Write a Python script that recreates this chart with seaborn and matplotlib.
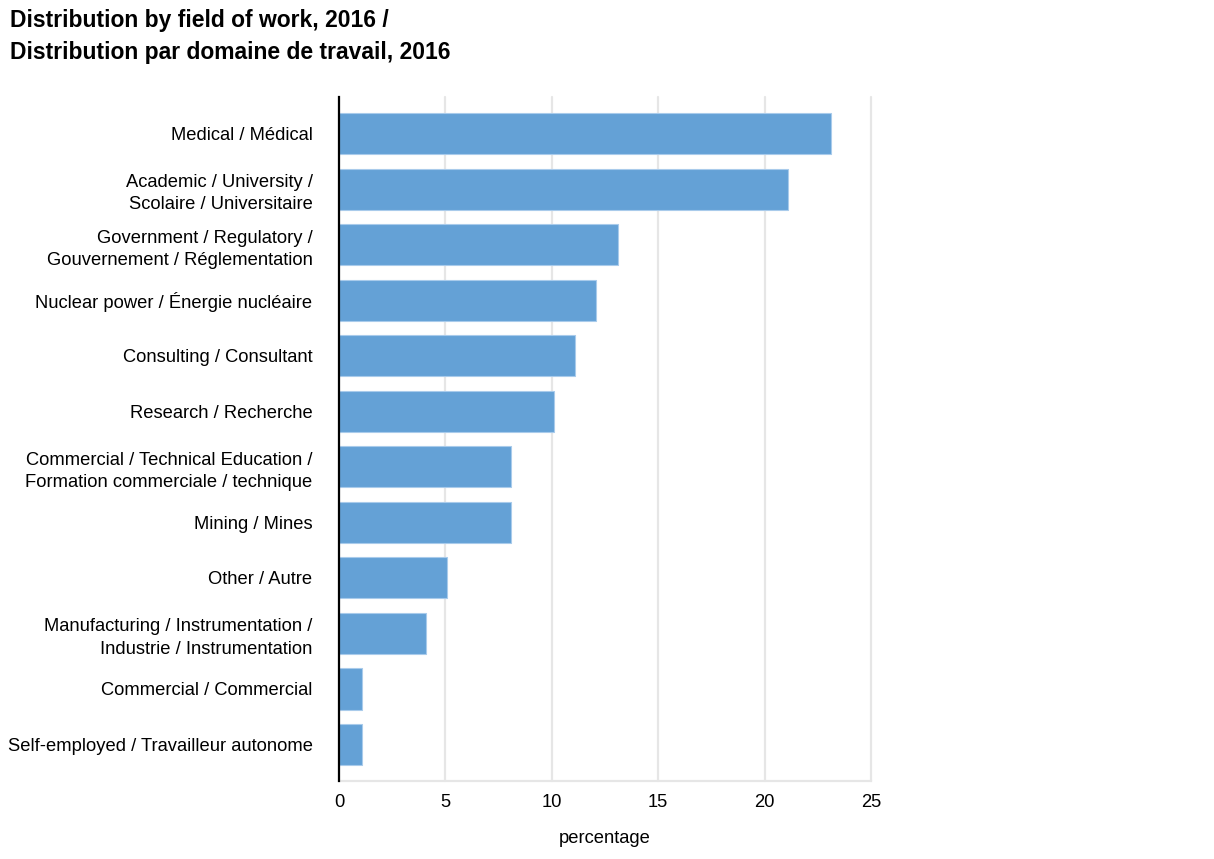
import pandas as pd
import matplotlib
matplotlib.use("Agg")
import matplotlib.pyplot as plt
import seaborn as sns

# Chart data
fields = [
    "Medical / Médical",
    "Academic / University /\nScolaire / Universitaire",
    "Government / Regulatory /\nGouvernement / Réglementation",
    "Nuclear power / Énergie nucléaire",
    "Consulting / Consultant",
    "Research / Recherche",
    "Commercial / Technical Education /\nFormation commerciale / technique",
    "Mining / Mines",
    "Other / Autre",
    "Manufacturing / Instrumentation /\nIndustrie / Instrumentation",
    "Commercial / Commercial",
    "Self-employed / Travailleur autonome",
]
percentages = [23.1, 21.1, 13.1, 12.1, 11.1, 10.1, 8.1, 8.1, 5.1, 4.1, 1.1, 1.1]
x_ticks = [0, 5, 10, 15, 20, 25]

df = pd.DataFrame({"field": fields, "percentage": percentages})

sns.set_theme(style="white")
plt.rcParams["font.family"] = ["Liberation Sans", "DejaVu Sans"]
plt.rcParams["text.color"] = "black"

fig = plt.figure(figsize=(12.14, 8.59), dpi=100)
ax = fig.add_axes([0.2792, 0.0908, 0.4383, 0.7962])

sns.barplot(data=df, x="percentage", y="field", orient="h", color="#64a1d6",
            saturation=1, width=0.74, edgecolor="#a9cbeb", linewidth=0.8, ax=ax)

ax.set_xlim(0, 25)
ax.set_ylim(len(fields) - 1 + 0.657, -0.657)
ax.set_xticks(x_ticks)
ax.set_xticklabels([str(t) for t in x_ticks])
ax.xaxis.grid(True, color="#e6e6e6", linewidth=1.6)
for gl in ax.xaxis.get_gridlines():
    gl.set_clip_on(False)
ax.set_axisbelow(True)

for side in ["top", "right"]:
    ax.spines[side].set_visible(False)
ax.spines["left"].set_color("black")
ax.spines["left"].set_linewidth(1.6)
ax.spines["left"].set_zorder(5)
ax.spines["bottom"].set_color("#e6e6e6")
ax.spines["bottom"].set_linewidth(1.6)

ax.tick_params(axis="y", length=0, pad=19, labelsize=13.2, labelcolor="black")
ax.tick_params(axis="x", length=0, pad=9, labelsize=13.2, labelcolor="black")
for lbl in ax.get_yticklabels():
    lbl.set_linespacing(1.4)

ax.set_ylabel("")
ax.set_xlabel("percentage", fontsize=13.2, labelpad=14, color="black")

fig.text(0.0082, 0.989, "Distribution by field of work, 2016 /\nDistribution par domaine de travail, 2016",
         fontsize=16.5, fontweight="bold", ha="left", va="top", linespacing=1.45,
         color="black")

fig.savefig("out.png", dpi=100)
